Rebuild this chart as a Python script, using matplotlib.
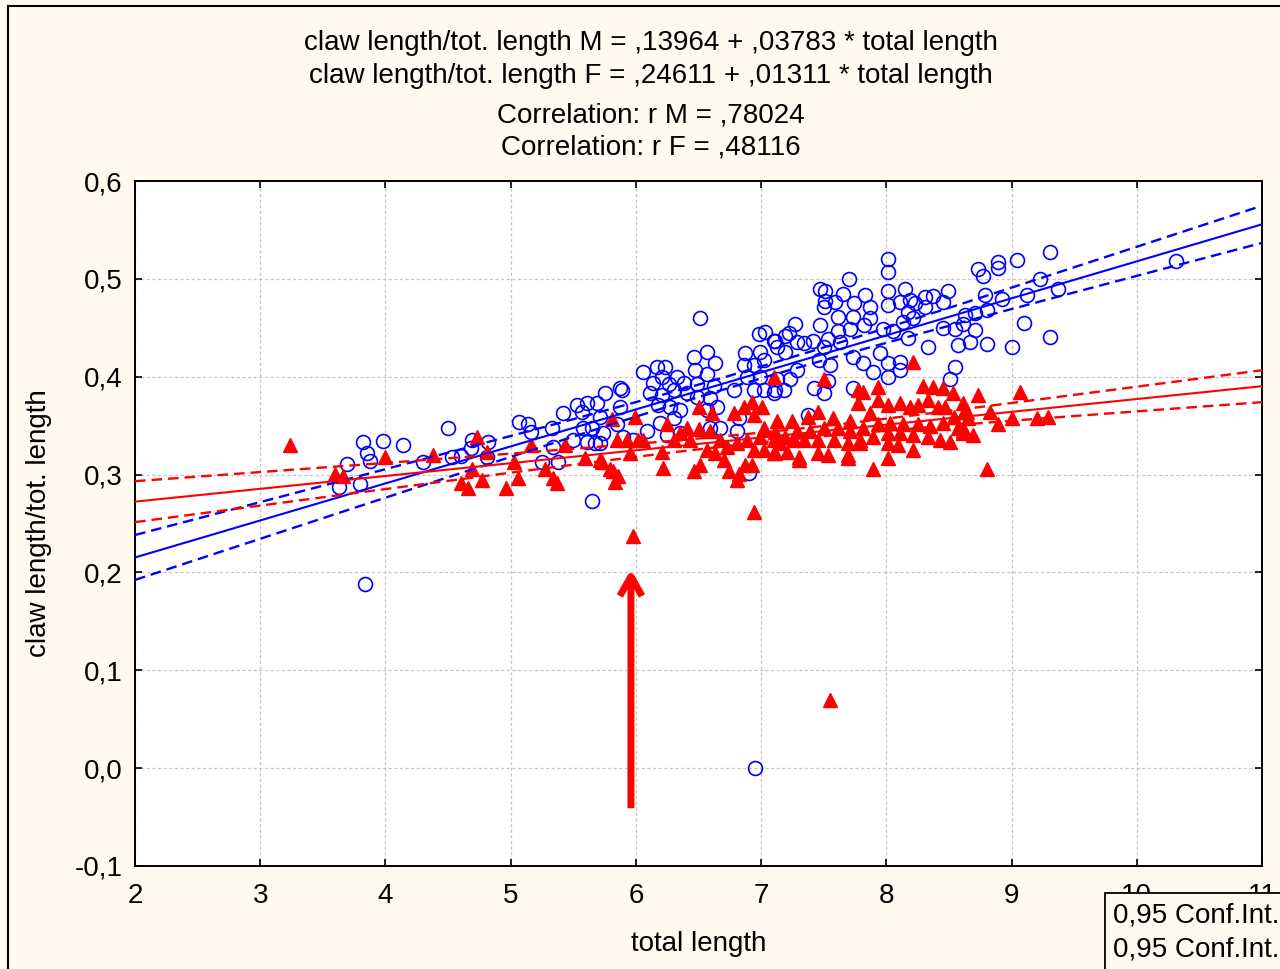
import numpy as np
import matplotlib.pyplot as plt
from matplotlib.patches import Rectangle
from matplotlib.ticker import FuncFormatter

plt.rcParams['font.family'] = ['Liberation Sans', 'DejaVu Sans']

# males (M): total length, claw length / total length
males = [
    (3.63, 0.287), (3.80, 0.290), (3.82, 0.333), (3.98, 0.334), (4.14, 0.330), (3.85, 0.322),
    (3.88, 0.314), (3.69, 0.311), (3.84, 0.188), (4.50, 0.348), (4.30, 0.313), (4.53, 0.318),
    (4.60, 0.319), (4.68, 0.327), (4.69, 0.335), (4.82, 0.333), (4.81, 0.318), (5.07, 0.354),
    (5.14, 0.352), (5.16, 0.343), (5.25, 0.313), (5.33, 0.348), (5.34, 0.328), (5.38, 0.313),
    (5.42, 0.363), (5.53, 0.371), (5.57, 0.364), (5.69, 0.373), (5.75, 0.383), (5.87, 0.388),
    (5.87, 0.369), (5.65, 0.273), (5.50, 0.335), (5.61, 0.333), (5.71, 0.332), (5.65, 0.348),
    (5.58, 0.348), (5.61, 0.373), (5.89, 0.386), (5.71, 0.359), (5.85, 0.352), (5.74, 0.342),
    (5.90, 0.338), (5.98, 0.335), (5.67, 0.332), (6.06, 0.405), (6.17, 0.410), (6.23, 0.410),
    (6.21, 0.400), (6.14, 0.394), (6.26, 0.393), (6.33, 0.400), (6.38, 0.394), (6.11, 0.383),
    (6.21, 0.381), (6.30, 0.386), (6.41, 0.383), (6.18, 0.371), (6.27, 0.369), (6.35, 0.366),
    (6.19, 0.353), (6.30, 0.358), (6.35, 0.342), (6.25, 0.340), (6.09, 0.345), (6.46, 0.420),
    (6.57, 0.425), (6.63, 0.414), (6.47, 0.407), (6.57, 0.403), (6.49, 0.393), (6.62, 0.391),
    (6.49, 0.379), (6.59, 0.378), (6.65, 0.369), (6.57, 0.366), (6.67, 0.348), (6.59, 0.348),
    (6.87, 0.424), (6.99, 0.425), (7.02, 0.417), (6.86, 0.412), (6.94, 0.412), (6.89, 0.400),
    (6.99, 0.400), (6.78, 0.386), (6.94, 0.386), (7.02, 0.386), (6.82, 0.358), (6.81, 0.345),
    (6.90, 0.302), (7.11, 0.386), (6.51, 0.460), (6.95, 0.000), (6.98, 0.444), (7.03, 0.446),
    (7.10, 0.436), (7.37, 0.361), (7.13, 0.430), (7.19, 0.425), (7.34, 0.434), (7.50, 0.430),
    (7.73, 0.420), (7.81, 0.414), (7.95, 0.424), (8.01, 0.414), (8.11, 0.415), (8.11, 0.407),
    (7.89, 0.405), (8.01, 0.400), (7.55, 0.412), (7.53, 0.396), (7.46, 0.417), (7.29, 0.407),
    (7.23, 0.398), (7.13, 0.398), (7.42, 0.388), (7.50, 0.383), (7.73, 0.388), (8.33, 0.430),
    (8.57, 0.432), (8.55, 0.410), (8.51, 0.398), (7.10, 0.383), (7.18, 0.386), (8.01, 0.520),
    (8.01, 0.507), (7.70, 0.500), (7.47, 0.490), (7.51, 0.488), (7.65, 0.485), (7.83, 0.483),
    (8.01, 0.488), (8.15, 0.490), (7.51, 0.477), (7.59, 0.476), (7.74, 0.475), (7.87, 0.471),
    (8.01, 0.473), (8.11, 0.476), (8.19, 0.478), (8.23, 0.475), (8.31, 0.481), (8.37, 0.482),
    (8.49, 0.488), (8.45, 0.476), (8.31, 0.471), (8.17, 0.466), (7.50, 0.471), (7.61, 0.461),
    (7.73, 0.461), (7.82, 0.453), (7.87, 0.460), (7.47, 0.453), (7.61, 0.447), (7.71, 0.449),
    (7.27, 0.454), (7.22, 0.445), (7.19, 0.442), (7.11, 0.437), (7.29, 0.435), (7.41, 0.437),
    (7.97, 0.449), (8.05, 0.447), (8.13, 0.456), (8.21, 0.460), (8.45, 0.450), (8.55, 0.449),
    (8.61, 0.454), (8.17, 0.440), (7.63, 0.435), (7.53, 0.439), (9.31, 0.527), (8.89, 0.517),
    (8.89, 0.511), (9.04, 0.519), (8.73, 0.510), (8.77, 0.503), (9.23, 0.500), (9.37, 0.490),
    (9.12, 0.483), (8.92, 0.479), (8.79, 0.483), (8.80, 0.468), (8.71, 0.465), (8.63, 0.463),
    (9.10, 0.455), (8.71, 0.448), (8.67, 0.435), (9.31, 0.441), (9.00, 0.430), (8.80, 0.433),
    (10.31, 0.518),
]

# females (F)
females = [
    (3.24, 0.330), (3.60, 0.301), (3.66, 0.299), (4.00, 0.318), (4.38, 0.320), (4.73, 0.338),
    (4.81, 0.323), (4.69, 0.306), (4.60, 0.291), (4.66, 0.286), (4.77, 0.294), (4.96, 0.286),
    (5.03, 0.313), (5.06, 0.297), (5.16, 0.330), (5.27, 0.306), (5.34, 0.296), (5.37, 0.291),
    (5.43, 0.330), (5.59, 0.317), (5.71, 0.315), (5.81, 0.357), (5.79, 0.306), (5.86, 0.299),
    (5.85, 0.335), (5.83, 0.292), (5.99, 0.359), (5.73, 0.313), (5.82, 0.304), (5.93, 0.335),
    (6.02, 0.335), (5.95, 0.322), (6.06, 0.335), (6.25, 0.352), (6.22, 0.307), (6.21, 0.323),
    (6.30, 0.335), (6.35, 0.342), (6.41, 0.348), (6.43, 0.335), (6.46, 0.304), (6.50, 0.347),
    (6.50, 0.369), (6.61, 0.363), (6.51, 0.310), (6.57, 0.325), (6.63, 0.322), (6.59, 0.345),
    (6.67, 0.335), (6.73, 0.328), (6.70, 0.315), (6.74, 0.304), (6.81, 0.294), (6.78, 0.363),
    (6.86, 0.369), (6.93, 0.374), (7.01, 0.369), (6.94, 0.361), (7.10, 0.400), (6.81, 0.332),
    (6.89, 0.335), (6.99, 0.338), (6.94, 0.325), (7.02, 0.325), (6.87, 0.310), (6.93, 0.310),
    (6.82, 0.301), (6.94, 0.262), (7.02, 0.348), (7.10, 0.322), (7.10, 0.335), (7.50, 0.398),
    (8.21, 0.415), (7.77, 0.386), (7.81, 0.384), (7.93, 0.389), (7.77, 0.373), (8.29, 0.391),
    (8.37, 0.389), (8.45, 0.388), (8.53, 0.383), (8.61, 0.373), (7.13, 0.355), (7.25, 0.355),
    (7.37, 0.359), (7.45, 0.364), (7.57, 0.358), (7.71, 0.355), (7.87, 0.363), (7.93, 0.376),
    (8.01, 0.371), (8.11, 0.373), (8.19, 0.369), (8.25, 0.371), (8.33, 0.376), (8.41, 0.369),
    (8.47, 0.369), (8.54, 0.359), (8.62, 0.364), (7.11, 0.343), (7.19, 0.338), (7.29, 0.345),
    (7.39, 0.345), (7.50, 0.348), (7.61, 0.348), (7.71, 0.345), (7.81, 0.348), (7.93, 0.352),
    (8.03, 0.353), (8.13, 0.352), (8.25, 0.352), (8.35, 0.350), (8.45, 0.353), (8.57, 0.348),
    (8.63, 0.343), (7.15, 0.332), (7.26, 0.335), (7.34, 0.335), (7.45, 0.335), (7.58, 0.335),
    (7.69, 0.332), (7.79, 0.335), (7.89, 0.338), (8.01, 0.342), (8.11, 0.342), (8.21, 0.340),
    (8.33, 0.338), (8.43, 0.335), (8.51, 0.333), (8.61, 0.342), (7.11, 0.322), (7.21, 0.323),
    (7.30, 0.318), (7.45, 0.322), (7.53, 0.320), (7.69, 0.320), (7.79, 0.332), (8.01, 0.332),
    (8.09, 0.330), (8.21, 0.325), (7.30, 0.315), (7.69, 0.317), (8.01, 0.317), (7.89, 0.306),
    (8.73, 0.381), (9.07, 0.384), (8.64, 0.364), (8.65, 0.358), (8.83, 0.364), (8.89, 0.352),
    (9.00, 0.358), (9.20, 0.358), (9.29, 0.359), (8.61, 0.345), (8.69, 0.340), (8.80, 0.306),
    (5.98, 0.237), (7.55, 0.070),
]

# regression coefficients from the title
coef_m = (0.13964, 0.03783)
coef_f = (0.24611, 0.01311)
r_m = ',78024'
r_f = ',48116'

arrow_x = 5.96
arrow_y = (-0.041, 0.203)

xm, ym = np.array(males).T
xf, yf = np.array(females).T


def conf_band(x, y, a, b, xs):
    n = len(x)
    res = y - (a + b * x)
    s = np.sqrt(np.sum(res ** 2) / (n - 2))
    sxx = np.sum((x - x.mean()) ** 2)
    hw = 1.97 * s * np.sqrt(1 / n + (xs - x.mean()) ** 2 / sxx)
    fit = a + b * xs
    return fit, fit - hw, fit + hw


def fmt(v):
    return f'{v:.5f}'.replace('0.', ',')


FS = 20
bg = '#fff9ee'
fig = plt.figure(figsize=(12.8, 9.69), dpi=100, facecolor=bg)
ax = fig.add_axes([0.1055, 0.1063, 0.8805, 0.7069])
ax.set_facecolor('white')

xs = np.linspace(2, 11, 200)
fm, lm, um = conf_band(xm, ym, *coef_m, xs)
ff, lf, uf = conf_band(xf, yf, *coef_f, xs)

ax.plot(xm, ym, 'o', ms=10, mfc='none', mec='#0000ff', mew=1.2, zorder=3)
ax.plot(xf, yf, '^', ms=10.5, color='#ff0000', mec='#ff0000', zorder=3)

ax.plot(xs, fm, color='#0000ff', lw=1.5, zorder=4)
ax.plot(xs, lm, color='#0000ff', lw=1.7, dashes=(4.5, 2.5), zorder=4)
ax.plot(xs, um, color='#0000ff', lw=1.7, dashes=(4.5, 2.5), zorder=4)
ax.plot(xs, ff, color='#ff0000', lw=1.5, zorder=4)
ax.plot(xs, lf, color='#ff0000', lw=1.7, dashes=(4.5, 2.5), zorder=4)
ax.plot(xs, uf, color='#ff0000', lw=1.7, dashes=(4.5, 2.5), zorder=4)

ax.annotate('', xy=(arrow_x, arrow_y[1]), xytext=(arrow_x, arrow_y[0]),
            arrowprops=dict(arrowstyle='->, head_length=1.4, head_width=0.8',
                            color='#ff0000', lw=5, capstyle='butt', joinstyle='round',
                            shrinkA=0, shrinkB=0), zorder=5)

ax.set_xlim(2, 11)
ax.set_ylim(-0.1, 0.6)
ax.set_xticks(np.arange(2, 12, 1))
ax.set_yticks(np.arange(-0.1, 0.61, 0.1))
ax.xaxis.set_major_formatter(FuncFormatter(lambda v, p: f'{v:.0f}'))
ax.yaxis.set_major_formatter(FuncFormatter(lambda v, p: f'{v:.1f}'.replace('.', ',').replace('-0,0', '0,0')))
ax.tick_params(axis='both', direction='in', length=5, width=1.2, top=True, right=True,
               labelsize=FS)
ax.tick_params(axis='y', pad=9)
ax.tick_params(axis='x', pad=12)
ax.grid(True, color='#c4c4c4', linestyle=(0, (2.5, 2)), lw=0.9)
for sp in ax.spines.values():
    sp.set_linewidth(1.4)

ax.set_xlabel('total length', fontsize=FS, va='center')
ax.xaxis.set_label_coords(0.5, -0.114)
ax.set_ylabel('claw length/tot. length', fontsize=FS, va='center')
ax.yaxis.set_label_coords(-0.085, 0.5)

title_lines = [
    f'claw length/tot. length M = {fmt(coef_m[0])} + {fmt(coef_m[1])} * total length',
    f'claw length/tot. length F = {fmt(coef_f[0])} + {fmt(coef_f[1])} * total length',
    f'Correlation: r M = {r_m}',
    f'Correlation: r F = {r_f}',
]
for txt, yy in zip(title_lines, [43, 76, 115, 148]):
    fig.text(0.5086, 1 - yy / 969, txt, ha='center', va='center', fontsize=FS)

# outer frame
fig.patches.append(Rectangle((8 / 1280, -0.05), 1.2, 1.05 - 6 / 969, transform=fig.transFigure,
                             fill=False, ec='black', lw=1.5, zorder=10))
# legend box (cut off at the edge)
fig.patches.append(Rectangle((1105 / 1280, -0.05), 0.3, 0.05 + 1 - 893 / 969, transform=fig.transFigure,
                             fc=bg, ec='black', lw=1.3, zorder=10))
for yy in [916, 949]:
    fig.text(1113 / 1280, 1 - yy / 969, '0,95 Conf.Int.', ha='left', va='center',
             fontsize=FS, zorder=11)

fig.savefig('out.png', dpi=100, facecolor=bg)
